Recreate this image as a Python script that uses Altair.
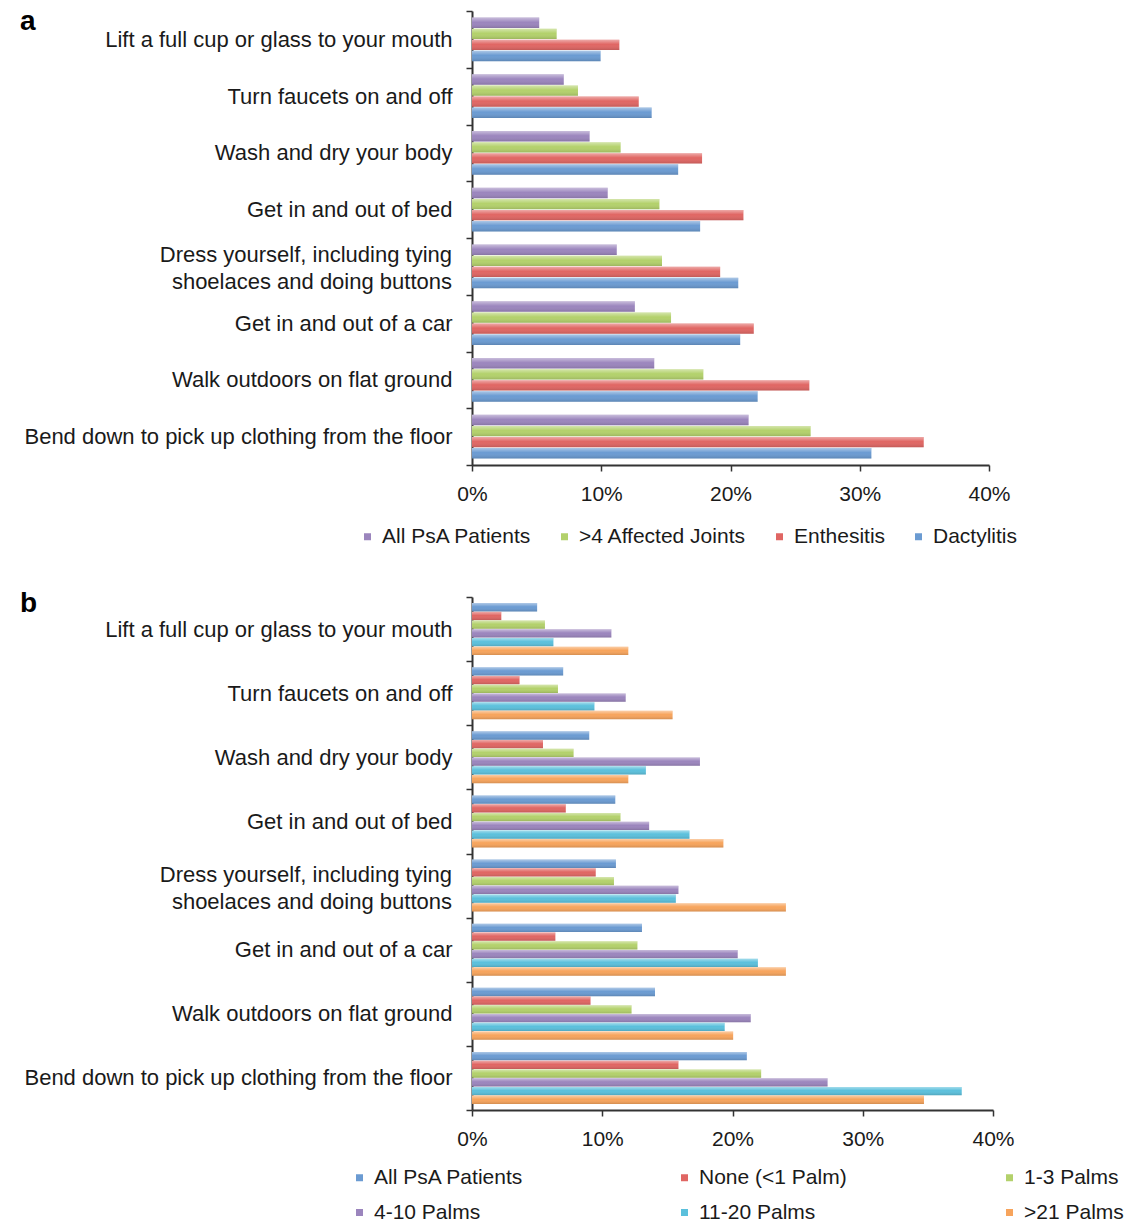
import altair as alt
import pandas as pd

FONT = "Liberation Sans"

activities = [
    "Lift a full cup or glass to your mouth",
    "Turn faucets on and off",
    "Wash and dry your body",
    "Get in and out of bed",
    "Dress yourself, including tying|shoelaces and doing buttons",
    "Get in and out of a car",
    "Walk outdoors on flat ground",
    "Bend down to pick up clothing from the floor",
]

# Panel a (percent)
a_series = ["All PsA Patients", ">4 Affected Joints", "Enthesitis", "Dactylitis"]
a_colors = ["#9b85bd", "#b3d16b", "#e06663", "#6b9bd2"]
a_all = [5.2, 7.1, 9.1, 10.5, 11.2, 12.6, 14.1, 21.4]
a_joints = [6.55, 8.2, 11.5, 14.5, 14.7, 15.4, 17.9, 26.2]
a_enth = [11.4, 12.9, 17.8, 21.0, 19.2, 21.8, 26.1, 34.95]
a_dact = [9.95, 13.9, 15.95, 17.65, 20.6, 20.75, 22.1, 30.9]

# Panel b (percent)
b_series = ["All PsA Patients", "None (<1 Palm)", "1-3 Palms", "4-10 Palms", "11-20 Palms", ">21 Palms"]
b_colors = ["#6b9bd2", "#e06663", "#b3d16b", "#9b85bd", "#5bc0dc", "#f7a45c"]
b_all = [5.0, 7.0, 9.0, 11.0, 11.05, 13.05, 14.05, 21.1]
b_none = [2.25, 3.65, 5.45, 7.2, 9.5, 6.4, 9.1, 15.85]
b_13 = [5.6, 6.6, 7.8, 11.4, 10.9, 12.7, 12.25, 22.2]
b_410 = [10.7, 11.8, 17.5, 13.6, 15.85, 20.4, 21.4, 27.3]
b_1120 = [6.25, 9.4, 13.35, 16.7, 15.65, 21.95, 19.4, 37.6]
b_21 = [12.0, 15.4, 12.0, 19.3, 24.1, 24.1, 20.05, 34.7]

tick_values = [0, 0.1, 0.2, 0.3, 0.4]
multi_line = [a for a in activities if "|" in a]

shine = alt.LinearGradient(
    gradient="linear", x1=0, y1=0, x2=0, y2=1,
    stops=[
        alt.GradientStop(offset=0, color="rgba(255,255,255,0.45)"),
        alt.GradientStop(offset=0.45, color="rgba(255,255,255,0)"),
        alt.GradientStop(offset=1, color="rgba(0,0,0,0.14)"),
    ],
)


def build_df(series, value_lists):
    rows = []
    for s, vals in zip(series, value_lists):
        for act, v in zip(activities, vals):
            rows.append({"activity": act, "series": s, "value": v / 100.0})
    return pd.DataFrame(rows)


def panel(letter, series, colors, value_lists, width, height, off_outer,
          legend, letter_y):
    df = build_df(series, value_lists)
    yaxis = alt.Axis(
        title=None,
        labelExpr="indexof(datum.label, '|') >= 0 ? '' : datum.label",
        labelFontSize=22,
        labelFont=FONT,
        labelColor="#1a1a1a",
        labelLimit=480,
        labelPadding=14,
        tickBand="extent",
        tickSize=6,
        tickWidth=1.5,
        tickColor="#333333",
        domainColor="#333333",
        domainWidth=2,
        grid=False,
    )
    xaxis = alt.Axis(
        title=None,
        values=tick_values,
        format=".0%",
        labelFontSize=21,
        labelFont=FONT,
        labelColor="#1a1a1a",
        labelPadding=12,
        labelFlush=False,
        tickSize=6,
        tickWidth=1.5,
        tickColor="#333333",
        domainColor="#333333",
        domainWidth=2,
        grid=False,
    )
    y_enc = alt.Y("activity:N", sort=activities,
                  scale=alt.Scale(paddingInner=0, paddingOuter=0), axis=yaxis)
    yo_enc = alt.YOffset("series:N", sort=series,
                         scale=alt.Scale(domain=series, paddingInner=0.05,
                                         paddingOuter=off_outer))
    x_enc = alt.X("value:Q", scale=alt.Scale(domain=[0, 0.4], nice=False),
                  axis=xaxis)
    bars = alt.Chart(df).mark_bar().encode(
        y=y_enc, yOffset=yo_enc, x=x_enc,
        color=alt.Color("series:N", scale=alt.Scale(domain=series, range=colors),
                        legend=legend),
    )
    gloss = alt.Chart(df).mark_bar(color=shine).encode(
        y=y_enc, yOffset=yo_enc, x=x_enc,
    )
    ml = alt.Chart(pd.DataFrame({"activity": multi_line})).mark_text(
        align="right", baseline="middle", fontSize=22, font=FONT,
        color="#1a1a1a", lineBreak="|", lineHeight=27, dy=-11
    ).encode(y=y_enc, x=alt.value(-20), text="activity:N")
    txt = alt.Chart(pd.DataFrame({"letter": [letter]})).mark_text(
        align="left", baseline="alphabetic", fontSize=28, fontWeight="bold",
        font=FONT, color="#000000"
    ).encode(x=alt.value(-452), y=alt.value(letter_y), text="letter:N")
    return alt.layer(bars, gloss, ml, txt).properties(width=width, height=height)


legend_a = alt.Legend(
    title=None, orient="none", direction="horizontal", legendX=-115, legendY=515,
    symbolType="square", symbolSize=49, symbolStrokeWidth=0,
    labelFontSize=21, labelFont=FONT, labelColor="#1a1a1a", labelOffset=4,
    labelLimit=400, columnPadding=22, padding=0,
)
legend_b = alt.Legend(
    title=None, orient="none", direction="horizontal", columns=3, gridAlign="all",
    legendX=-123, legendY=570,
    symbolType="square", symbolSize=49, symbolStrokeWidth=0,
    labelFontSize=21, labelFont=FONT, labelColor="#1a1a1a", labelOffset=4,
    labelLimit=400, columnPadding=150, rowPadding=13, padding=0,
)

chart_a = panel("a", a_series, a_colors, [a_all, a_joints, a_enth, a_dact],
                517, 454, 0.6, legend_a, 19)
chart_b = panel("b", b_series, b_colors, [b_all, b_none, b_13, b_410, b_1120, b_21],
                521, 513, 0.7, legend_b, 15)

chart = alt.vconcat(chart_a, chart_b, spacing=39).resolve_scale(
    color="independent", x="independent", y="independent", yOffset="independent"
).resolve_legend(color="independent").properties(
    padding={"left": 20, "top": 0, "right": 0, "bottom": 0}
).configure(font=FONT).configure_view(stroke="transparent", strokeWidth=0)

chart.save("out.html", embed_options={"renderer": "svg", "actions": False})
